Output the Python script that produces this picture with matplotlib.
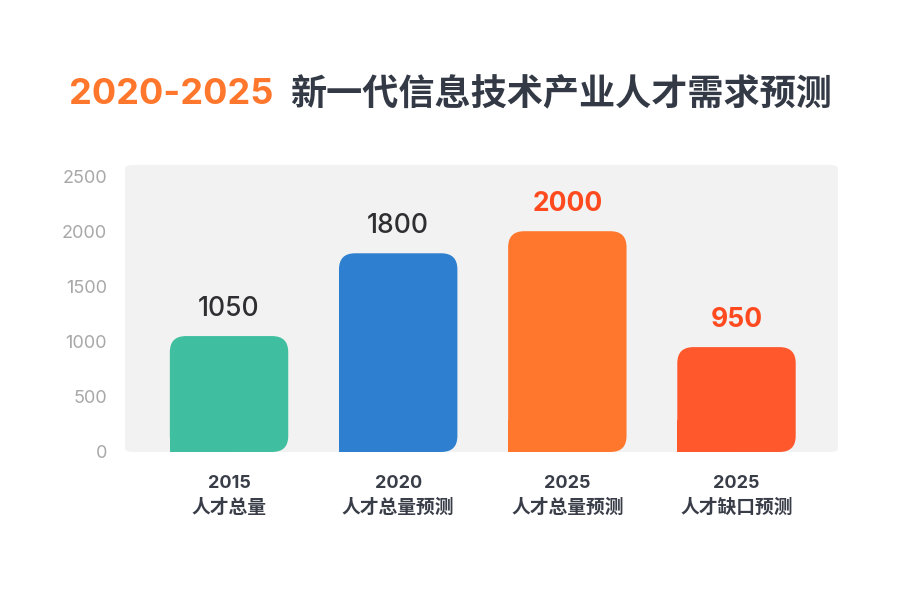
import matplotlib
matplotlib.use("Agg")
import matplotlib.pyplot as plt
from matplotlib.patches import FancyBboxPatch, Rectangle

plt.rcParams['font.family'] = ['Inter', 'Noto Sans CJK SC', 'DejaVu Sans']

years = ['2015', '2020', '2025', '2025']
names = ['人才总量', '人才总量预测', '人才总量预测', '人才缺口预测']
values = [1050, 1800, 2000, 950]
colors = ['#3fbf9f', '#2e7fcf', '#ff772c', '#ff582d']
label_colors = ['#2f2f33', '#2f2f33', '#ff4a1f', '#ff4a1f']
label_weights = ['medium', 'medium', 'bold', 'bold']

fig = plt.figure(figsize=(9, 5.93), dpi=100)
fig.patch.set_facecolor('white')
ax = fig.add_axes([0.1389, 0.2378, 0.7922, 0.484])
ax.set_xlim(-0.615, 3.6)
ax.set_ylim(0, 2600)
ax.set_facecolor('none')
for s in ax.spines.values():
    s.set_visible(False)

# rounded grey panel behind the bars
bg = FancyBboxPatch((0, 0), 1, 1, boxstyle="round,pad=0,rounding_size=0.012",
                    transform=ax.transAxes, facecolor='#f2f2f2', edgecolor='none',
                    zorder=0, clip_on=False)
ax.add_patch(bg)

w = 0.70
r_x = 0.095
r_y = r_x * 169 / (276 / 2500.0)   # same radius in pixels on both axes
for i, v in enumerate(values):
    box = FancyBboxPatch((i - w / 2, 0), w, v,
                         boxstyle="round,pad=0,rounding_size=%f" % r_x,
                         mutation_aspect=r_y / r_x,
                         facecolor=colors[i], edgecolor='none', zorder=2)
    ax.add_patch(box)
    # square the bottom-left corner
    ax.add_patch(Rectangle((i - w / 2, 0), w / 2, 2 * r_y, facecolor=colors[i],
                           edgecolor='none', antialiased=False, zorder=2))
    ax.text(i, v + 125, str(v), ha='center', va='bottom', fontsize=19,
            color=label_colors[i], fontweight=label_weights[i], zorder=3)

ax.set_yticks([0, 500, 1000, 1500, 2000, 2500])
ax.tick_params(axis='y', length=0, pad=13, labelsize=13, labelcolor='#a8a8a8')
ax.set_xticks(range(len(values)))
ax.set_xticklabels([])
ax.tick_params(axis='x', length=0)

for i in range(len(values)):
    ax.text(i, -0.11, years[i], transform=ax.get_xaxis_transform(), ha='center',
            va='center', fontsize=13, fontweight='bold', color='#383d48')
    ax.text(i, -0.195, names[i], transform=ax.get_xaxis_transform(), ha='center',
            va='center', fontsize=13.5, fontweight='bold', color='#383d48')

fig.text(273 / 900, 1 - 95 / 593, '2020-2025', ha='right', va='center',
         fontsize=26, fontweight='bold', color='#ff772c')
fig.text(290 / 900, 1 - 95 / 593, '新一代信息技术产业人才需求预测', ha='left',
         va='center', fontsize=26, fontweight='bold', color='#333a46')

fig.savefig('out.png', dpi=100, facecolor='white')
